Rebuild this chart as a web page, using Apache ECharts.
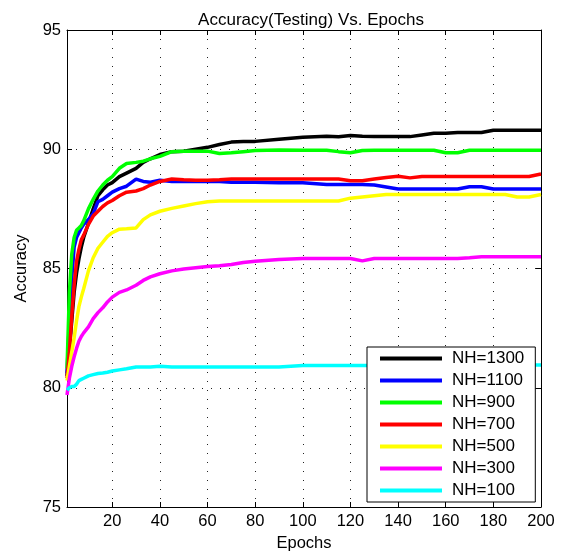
<!DOCTYPE html>
<html>
<head>
<meta charset="utf-8">
<title>Accuracy(Testing) Vs. Epochs</title>
<script src="https://cdn.jsdelivr.net/npm/echarts@6/dist/echarts.min.js"></script>
<style>
  html, body { margin: 0; padding: 0; background: #fff; }
  #chart { width: 561px; height: 557px; }
</style>
</head>
<body>
<div id="chart"></div>
<script>
const epochs = [1, 2, 3, 4, 5, 6, 7, 8, 10, 12, 14, 16, 18, 20, 23, 26, 30, 33, 36, 40, 45, 50, 55, 60, 65, 70, 75, 80, 90, 100,
  110, 115, 120, 125, 130, 135, 140, 145, 150, 155, 160, 165, 170, 175, 180, 185, 190, 195, 200];

const acc1300 = [80.5, 81.6, 82.8, 84.0, 84.8, 85.4, 85.9, 86.3, 86.9, 87.5, 88.05, 88.3, 88.5, 88.6, 88.85, 89.0, 89.2, 89.45, 89.6, 89.78,
  89.9, 89.92, 90.0, 90.08, 90.2, 90.3, 90.33, 90.33, 90.42, 90.5, 90.55, 90.52, 90.58, 90.55, 90.53, 90.53, 90.53, 90.53, 90.6, 90.67,
  90.67, 90.7, 90.7, 90.7, 90.8, 90.8, 90.8, 90.8, 90.8];
const acc1100 = [80.6, 82.8, 84.6, 85.9, 86.3, 86.5, 86.7, 86.85, 87.05, 87.3, 87.8, 87.9, 88.05, 88.2, 88.35, 88.45, 88.75, 88.65, 88.62, 88.7,
  88.65, 88.65, 88.65, 88.65, 88.65, 88.62, 88.62, 88.62, 88.6, 88.6, 88.52, 88.52, 88.52, 88.52, 88.5, 88.42, 88.33, 88.33, 88.33, 88.33,
  88.33, 88.33, 88.43, 88.43, 88.33, 88.33, 88.33, 88.33, 88.33];
const acc900 = [80.8, 84.0, 85.6, 86.3, 86.6, 86.7, 86.8, 87.0, 87.5, 87.9, 88.25, 88.5, 88.7, 88.85, 89.2, 89.4, 89.45, 89.5, 89.6, 89.7,
  89.9, 89.92, 89.92, 89.92, 89.82, 89.85, 89.9, 89.95, 89.97, 89.96, 89.96, 89.9, 89.85, 89.95, 89.96, 89.96, 89.96, 89.96, 89.96, 89.96,
  89.85, 89.85, 89.96, 89.96, 89.96, 89.96, 89.96, 89.96, 89.96];
const acc700 = [80.4, 81.5, 83.0, 84.3, 85.3, 85.8, 86.2, 86.4, 86.85, 87.2, 87.4, 87.6, 87.75, 87.85, 88.05, 88.2, 88.25, 88.35, 88.5, 88.65,
  88.75, 88.72, 88.7, 88.7, 88.72, 88.75, 88.75, 88.75, 88.75, 88.75, 88.75, 88.75, 88.68, 88.68, 88.75, 88.82, 88.87, 88.8, 88.86, 88.86,
  88.86, 88.86, 88.86, 88.86, 88.86, 88.86, 88.86, 88.86, 88.96];
const acc500 = [80.3, 80.9, 81.5, 82.1, 82.8, 83.4, 83.8, 84.15, 84.9, 85.45, 85.85, 86.1, 86.35, 86.5, 86.65, 86.67, 86.7, 87.05, 87.25, 87.4,
  87.52, 87.62, 87.72, 87.8, 87.83, 87.83, 87.83, 87.83, 87.83, 87.83, 87.83, 87.83, 87.95, 88.0, 88.05, 88.1, 88.1, 88.1, 88.1, 88.1,
  88.1, 88.1, 88.1, 88.1, 88.1, 88.1, 88.0, 88.0, 88.1];
const acc300 = [79.7, 80.4, 80.9, 81.3, 81.65, 81.95, 82.15, 82.3, 82.55, 82.9, 83.15, 83.35, 83.6, 83.8, 84.0, 84.1, 84.3, 84.5, 84.65, 84.78,
  84.9, 84.98, 85.03, 85.08, 85.12, 85.17, 85.25, 85.3, 85.38, 85.42, 85.42, 85.42, 85.42, 85.32, 85.42, 85.42, 85.42, 85.42, 85.42, 85.42,
  85.42, 85.42, 85.45, 85.49, 85.49, 85.49, 85.49, 85.49, 85.49];
const acc100 = [79.9, 80.0, 80.05, 80.05, 80.15, 80.3, 80.35, 80.4, 80.5, 80.55, 80.6, 80.62, 80.65, 80.7, 80.75, 80.8, 80.87, 80.87, 80.87, 80.9,
  80.87, 80.87, 80.87, 80.87, 80.87, 80.87, 80.87, 80.87, 80.87, 80.93, 80.93, 80.93, 80.93, 80.93, 80.93, 80.88, 80.88, 80.93, 80.88, 80.93,
  80.93, 80.93, 80.93, 80.93, 80.93, 80.95, 80.95, 80.95, 80.95];

const seriesNames = ['NH=1300', 'NH=1100', 'NH=900', 'NH=700', 'NH=500', 'NH=300', 'NH=100'];
const seriesValues = [acc1300, acc1100, acc900, acc700, acc500, acc300, acc100];
const colors = ['#000000', '#0000ff', '#00ff00', '#ff0000', '#ffff00', '#ff00ff', '#00ffff'];

const xTicks = [20, 40, 60, 80, 100, 120, 140, 160, 180, 200];

const font = 'Liberation Sans, Arial, Helvetica, sans-serif';
const chart = echarts.init(document.getElementById('chart'));

const gridLine = { show: true, lineStyle: { color: '#222', width: 1, type: [1, 8] } };
const tickIn = { show: true, inside: true, length: 5, lineStyle: { color: '#000' } };

chart.setOption({
  animation: false,
  color: colors,
  title: {
    text: 'Accuracy(Testing) Vs. Epochs',
    left: 306,
    top: 7,
    textAlign: 'center',
    textStyle: { fontFamily: font, fontSize: 17, fontWeight: 'normal', color: '#000' }
  },
  grid: { left: 67, right: 20, top: 30, bottom: 47, containLabel: false },
  legend: {
    orient: 'vertical',
    left: 367,
    top: 347,
    padding: [3, 11, 3, 13],
    itemWidth: 62,
    itemHeight: 4,
    itemGap: 5,
    itemStyle: { borderWidth: 0 },
    icon: 'rect',
    borderColor: '#000',
    borderWidth: 1,
    backgroundColor: '#fff',
    textStyle: { fontFamily: font, fontSize: 17, color: '#000', lineHeight: 17, padding: [0, 0, 0, 5] },
    data: seriesNames
  },
  xAxis: [
    {
      type: 'value', min: 1, max: 200,
      name: 'Epochs', nameLocation: 'middle', nameGap: 28,
      nameTextStyle: { fontFamily: font, fontSize: 16.5, color: '#000' },
      axisLine: { show: true, onZero: false, lineStyle: { color: '#000' } },
      axisTick: Object.assign({ customValues: xTicks }, tickIn),
      axisLabel: { customValues: xTicks, fontFamily: font, fontSize: 16.5, color: '#000', margin: 6 },
      splitLine: gridLine
    },
    {
      type: 'value', min: 1, max: 200, position: 'top',
      axisLine: { show: true, onZero: false, lineStyle: { color: '#000' } },
      axisTick: Object.assign({ customValues: xTicks }, tickIn),
      axisLabel: { show: false },
      splitLine: { show: false }
    }
  ],
  yAxis: [
    {
      type: 'value', min: 75, max: 95, interval: 5,
      name: 'Accuracy', nameLocation: 'middle', nameGap: 37,
      nameTextStyle: { fontFamily: font, fontSize: 16.5, color: '#000' },
      axisLine: { show: true, onZero: false, lineStyle: { color: '#000' } },
      axisTick: tickIn,
      axisLabel: { fontFamily: font, fontSize: 16.5, color: '#000', margin: 6 },
      splitLine: gridLine
    },
    {
      type: 'value', min: 75, max: 95, interval: 5, position: 'right',
      axisLine: { show: true, onZero: false, lineStyle: { color: '#000' } },
      axisTick: tickIn,
      axisLabel: { show: false },
      splitLine: { show: false }
    }
  ],
  series: seriesNames.map((name, i) => ({
    name: name,
    type: 'line',
    xAxisIndex: 0,
    yAxisIndex: 0,
    showSymbol: false,
    symbol: 'none',
    lineStyle: { width: 3.5, color: colors[i] },
    data: epochs.map((e, k) => [e, seriesValues[i][k]])
  }))
});
</script>
</body>
</html>
